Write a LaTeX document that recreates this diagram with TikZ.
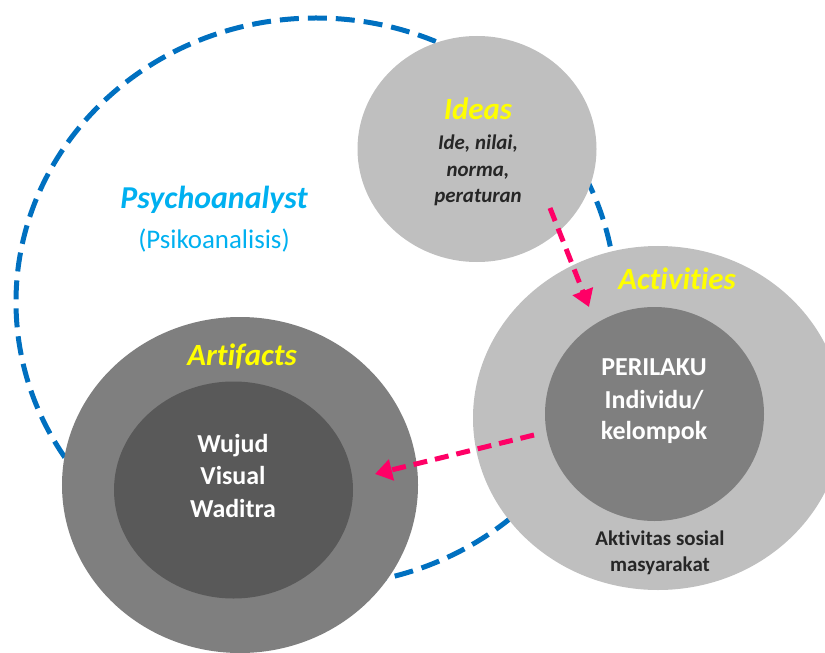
\documentclass[tikz,border=0pt]{standalone}
\usepackage{fontspec}
\setmainfont{Carlito}[Ligatures=NoCommon]
\usetikzlibrary{shapes.geometric,arrows.meta}
\definecolor{psyblue}{HTML}{0070C0}
\definecolor{lightblue}{HTML}{00B0F0}
\definecolor{pinkline}{HTML}{FF0066}
\definecolor{lgray}{HTML}{BFBFBF}
\definecolor{mgray}{HTML}{7F7F7F}
\definecolor{dgray}{HTML}{595959}
\definecolor{darktext}{HTML}{262626}
\definecolor{yellowtext}{HTML}{FFFF00}
\tikzset{
  blob/.style={ellipse, inner sep=0pt, draw=none},
  psyring/.style={ellipse, inner sep=0pt, draw=psyblue, line width=5bp, dash pattern=on 19bp off 9bp},
  pinkarrow/.style={draw=pinkline, line width=5bp, dash pattern=on 14bp off 8bp, -{Triangle[length=17bp,width=21bp]}},
  title/.style={anchor=base, inner sep=0pt, text=yellowtext, font=\bfseries\itshape\fontsize{31}{31}\selectfont},
  smallital/.style={anchor=base, inner sep=0pt, text=darktext, font=\bfseries\itshape\fontsize{21}{21}\selectfont},
  whitetext/.style={anchor=base, inner sep=0pt, text=white, font=\bfseries\fontsize{26}{26}\selectfont},
  darkbold/.style={anchor=base, inner sep=0pt, text=darktext, font=\bfseries\fontsize{21}{21}\selectfont}
}
\begin{document}
\begin{tikzpicture}[x=1bp,y=-1bp]
\useasboundingbox (0,0) rectangle (825,653);
% outer dashed ring
\node[psyring, minimum width=600bp, minimum height=568bp] (psy) at (316,302) {};
% circles
\node[blob, fill=lgray, minimum width=239bp, minimum height=226bp] (ideas) at (477,149) {};
\node[blob, fill=lgray, minimum width=370bp, minimum height=344bp] (actout) at (658,418) {};
\node[blob, fill=mgray, minimum width=219bp, minimum height=214bp] (actin) at (654.5,414) {};
\node[blob, fill=mgray, minimum width=356bp, minimum height=336bp] (artout) at (240,485) {};
\node[blob, fill=dgray, minimum width=239bp, minimum height=217bp] (artin) at (233.5,490) {};
% arrows
\coordinate (a1s) at (550,208);
\coordinate (a1e) at (589,307);
\coordinate (a2s) at (534,435);
\coordinate (a2e) at (375,474);
\draw[pinkarrow] (a1s) -- (a1e);
\draw[pinkarrow] (a2s) -- (a2e);
% texts
\node[anchor=base, inner sep=0pt, text=lightblue, font=\bfseries\itshape\fontsize{32}{32}\selectfont] (psyt) at (214,208) {Psychoanalyst};
\node[anchor=base, inner sep=0pt, text=lightblue, font=\fontsize{27}{27}\selectfont] (psyt2) at (214,248) {(Psikoanalisis)};
\node[title] (ideast) at (478,120) {Ideas};
\node[smallital] (id1) at (478,150) {Ide, nilai,};
\node[smallital] (id2) at (478,176) {norma,};
\node[smallital] (id3) at (478,202) {peraturan};
\node[title] (actt) at (677,289) {Activities};
\node[whitetext] (pl1) at (654,375) {PERILAKU};
\node[whitetext] (pl2) at (654,408) {Individu/};
\node[whitetext] (pl3) at (654,439) {kelompok};
\node[darkbold] (ak1) at (660,545) {Aktivitas sosial};
\node[darkbold] (ak2) at (660,571) {masyarakat};
\node[title] (artt) at (242,365) {Artifacts};
\node[whitetext] (wj1) at (233,452) {Wujud};
\node[whitetext] (wj2) at (233,484) {Visual};
\node[whitetext] (wj3) at (233,517) {Waditra};
\end{tikzpicture}
\end{document}
